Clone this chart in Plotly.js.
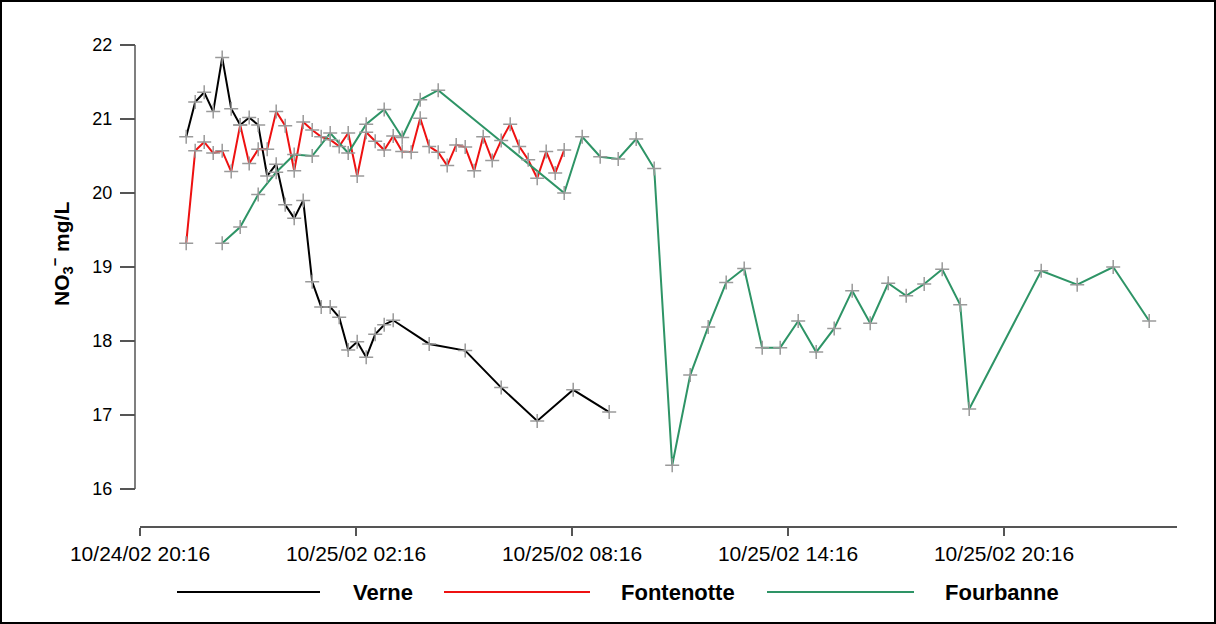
<!DOCTYPE html>
<html>
<head>
<meta charset="utf-8">
<script src="https://cdn.plot.ly/plotly-3.0.1.min.js"></script>
<style>
  html, body { margin: 0; padding: 0; background: #fff; }
  #wrap { position: relative; width: 1216px; height: 624px; }
  #chart { width: 1216px; height: 624px; }
  #frame { position: absolute; left: 0; top: 0; width: 1216px; height: 624px; box-sizing: border-box; border: 2px solid #000; pointer-events: none; }
</style>
</head>
<body>
<div id="wrap"><div id="chart"></div><div id="frame"></div></div>
<script>
// ---------- DATA ----------
const seriesNames = ["Verne", "Fontenotte", "Fourbanne"];

const verneTimes = [
  "2002-10-24 21:33","2002-10-24 21:48","2002-10-24 22:03","2002-10-24 22:18","2002-10-24 22:33",
  "2002-10-24 22:48","2002-10-24 23:03","2002-10-24 23:18","2002-10-24 23:33","2002-10-24 23:48",
  "2002-10-25 00:03","2002-10-25 00:18","2002-10-25 00:33","2002-10-25 00:48","2002-10-25 01:03",
  "2002-10-25 01:18","2002-10-25 01:33","2002-10-25 01:48","2002-10-25 02:03","2002-10-25 02:18",
  "2002-10-25 02:33","2002-10-25 02:48","2002-10-25 03:03","2002-10-25 03:18","2002-10-25 04:18",
  "2002-10-25 05:18","2002-10-25 06:18","2002-10-25 07:18","2002-10-25 08:18","2002-10-25 09:18"
];
const verneValues = [
  20.76, 21.23, 21.36, 21.10, 21.83, 21.14, 20.92, 21.02, 20.92, 20.23,
  20.39, 19.84, 19.66, 19.90, 18.80, 18.46, 18.46, 18.32, 17.88, 17.99,
  17.78, 18.09, 18.22, 18.28, 17.96, 17.87, 17.37, 16.92, 17.34, 17.04
];

const fontenotteTimes = [
  "2002-10-24 21:33","2002-10-24 21:48","2002-10-24 22:03","2002-10-24 22:18","2002-10-24 22:33",
  "2002-10-24 22:48","2002-10-24 23:03","2002-10-24 23:18","2002-10-24 23:33","2002-10-24 23:48",
  "2002-10-25 00:03","2002-10-25 00:18","2002-10-25 00:33","2002-10-25 00:48","2002-10-25 01:03",
  "2002-10-25 01:18","2002-10-25 01:33","2002-10-25 01:48","2002-10-25 02:03","2002-10-25 02:18",
  "2002-10-25 02:33","2002-10-25 02:48","2002-10-25 03:03","2002-10-25 03:18","2002-10-25 03:33",
  "2002-10-25 03:48","2002-10-25 04:03","2002-10-25 04:18","2002-10-25 04:33","2002-10-25 04:48",
  "2002-10-25 05:03","2002-10-25 05:18","2002-10-25 05:33","2002-10-25 05:48","2002-10-25 06:03",
  "2002-10-25 06:18","2002-10-25 06:33","2002-10-25 06:48","2002-10-25 07:03","2002-10-25 07:18",
  "2002-10-25 07:33","2002-10-25 07:48","2002-10-25 08:03"
];
const fontenotteValues = [
  19.32, 20.57, 20.69, 20.54, 20.57, 20.29, 20.92, 20.40, 20.59, 20.59,
  21.10, 20.91, 20.30, 20.96, 20.85, 20.76, 20.72, 20.63, 20.81, 20.23,
  20.82, 20.70, 20.58, 20.77, 20.56, 20.55, 21.01, 20.63, 20.55, 20.37,
  20.65, 20.62, 20.30, 20.76, 20.44, 20.71, 20.93, 20.63, 20.45, 20.20,
  20.56, 20.27, 20.58
];

const fourbanneTimes = [
  "2002-10-24 22:33","2002-10-24 23:03","2002-10-24 23:33","2002-10-25 00:03","2002-10-25 00:33",
  "2002-10-25 01:03","2002-10-25 01:33","2002-10-25 02:03","2002-10-25 02:33","2002-10-25 03:03",
  "2002-10-25 03:33","2002-10-25 04:03","2002-10-25 04:33",
  "2002-10-25 08:03","2002-10-25 08:33","2002-10-25 09:03","2002-10-25 09:33","2002-10-25 10:03",
  "2002-10-25 10:33","2002-10-25 11:03","2002-10-25 11:33","2002-10-25 12:03","2002-10-25 12:33",
  "2002-10-25 13:03","2002-10-25 13:33","2002-10-25 14:03","2002-10-25 14:33","2002-10-25 15:03",
  "2002-10-25 15:33","2002-10-25 16:03","2002-10-25 16:33","2002-10-25 17:03","2002-10-25 17:33",
  "2002-10-25 18:03","2002-10-25 18:33","2002-10-25 19:03",
  "2002-10-25 19:18","2002-10-25 21:18","2002-10-25 22:18","2002-10-25 23:18","2002-10-26 00:18"
];
const fourbanneValues = [
  19.32, 19.54, 19.98, 20.28, 20.52, 20.50, 20.81, 20.54, 20.93, 21.13,
  20.75, 21.26, 21.39,
  20.00, 20.76, 20.49, 20.46, 20.73, 20.33, 16.32, 17.54, 18.19, 18.79,
  18.98, 17.91, 17.91, 18.27, 17.85, 18.17, 18.68, 18.24, 18.78, 18.61,
  18.77, 18.97, 18.49,
  17.08, 18.95, 18.76, 19.00, 18.27
];

const tickVals = ["2002-10-24 20:16","2002-10-25 02:16","2002-10-25 08:16","2002-10-25 14:16","2002-10-25 20:16"];
const tickText = ["10/24/02 20:16","10/25/02 02:16","10/25/02 08:16","10/25/02 14:16","10/25/02 20:16"];
const yTicks = [16, 17, 18, 19, 20, 21, 22];

// ---------- STYLE ----------
const colors = ["#000000", "#ee1111", "#2e9466"];
const markerColor = "#9a9a9a";
const FONT = "Liberation Sans, Arial, Helvetica, sans-serif";
const axisColor = "#555555";

const W = 1216, H = 624;
const M = { l: 135, r: 39, t: 45, b: 98 };
const plotW = W - M.l - M.r, plotH = H - M.t - M.b;
const px2x = p => (p - M.l) / plotW;
const py2y = p => (H - M.b - p) / plotH;

const allTimes = [verneTimes, fontenotteTimes, fourbanneTimes];
const allValues = [verneValues, fontenotteValues, fourbanneValues];

const traces = [];
for (let i = 0; i < 3; i++) {
  traces.push({
    type: "scatter", mode: "lines", name: seriesNames[i],
    x: allTimes[i], y: allValues[i],
    line: { color: colors[i], width: 2 }, showlegend: false,
    hoverinfo: "x+y+name"
  });
}
for (let i = 0; i < 3; i++) {
  traces.push({
    type: "scatter", mode: "markers", name: seriesNames[i] + " points",
    x: allTimes[i], y: allValues[i],
    marker: { symbol: "cross-thin-open", size: 10, color: markerColor, line: { color: markerColor, width: 1.5 } },
    showlegend: false, hoverinfo: "skip"
  });
}

// manual legend (long line samples as in the reference)
const legendY = py2y(592);
const legendLines = [[177, 320], [444, 590], [767, 914]];
const legendTextX = [383, 678, 1002];

const shapes = [
  { type: "line", xref: "paper", yref: "y", x0: 0, x1: 0, y0: 16, y1: 22,
    line: { color: axisColor, width: 1.5 } }
];
const annotations = [
  { xref: "paper", yref: "paper", x: px2x(62), y: py2y(254), textangle: -90,
    text: "<b>NO<sub>3</sub><sup>\u2212</sup> mg/L</b>", showarrow: false,
    font: { family: FONT, size: 21, color: "#000" }, xanchor: "center", yanchor: "middle" }
];
for (let i = 0; i < 3; i++) {
  shapes.push({ type: "line", xref: "paper", yref: "paper",
    x0: px2x(legendLines[i][0]), x1: px2x(legendLines[i][1]), y0: legendY, y1: legendY,
    line: { color: colors[i], width: 2 } });
  annotations.push({ xref: "paper", yref: "paper", x: px2x(legendTextX[i]), y: legendY,
    text: "<b>" + seriesNames[i] + "</b>", showarrow: false,
    font: { family: FONT, size: 22, color: "#000" }, xanchor: "center", yanchor: "middle" });
}

const layout = {
  width: W, height: H,
  margin: M,
  paper_bgcolor: "#fff", plot_bgcolor: "#fff",
  font: { family: FONT, color: "#000" },
  showlegend: false,
  xaxis: {
    type: "date", domain: [5 / plotW, 1],
    range: ["2002-10-24 20:16", "2002-10-26 01:04:20"],
    tickmode: "array", tickvals: tickVals, ticktext: tickText,
    ticks: "outside", ticklen: 8, tickcolor: axisColor, tickwidth: 1.5,
    showline: true, linecolor: axisColor, linewidth: 1.5,
    showgrid: false, zeroline: false,
    tickfont: { family: FONT, size: 21, color: "#000" }
  },
  yaxis: {
    range: [15.5, 22], anchor: "free", position: 0,
    tickmode: "array", tickvals: yTicks,
    ticks: "outside", ticklen: 15, tickcolor: axisColor, tickwidth: 1.5,
    showline: false, showgrid: false, zeroline: false,
    ticklabelstandoff: 4,
    tickfont: { family: FONT, size: 18, color: "#000" }
  },
  shapes: shapes,
  annotations: annotations
};

Plotly.newPlot("chart", traces, layout, { displayModeBar: false, staticPlot: true });
</script>
</body>
</html>
